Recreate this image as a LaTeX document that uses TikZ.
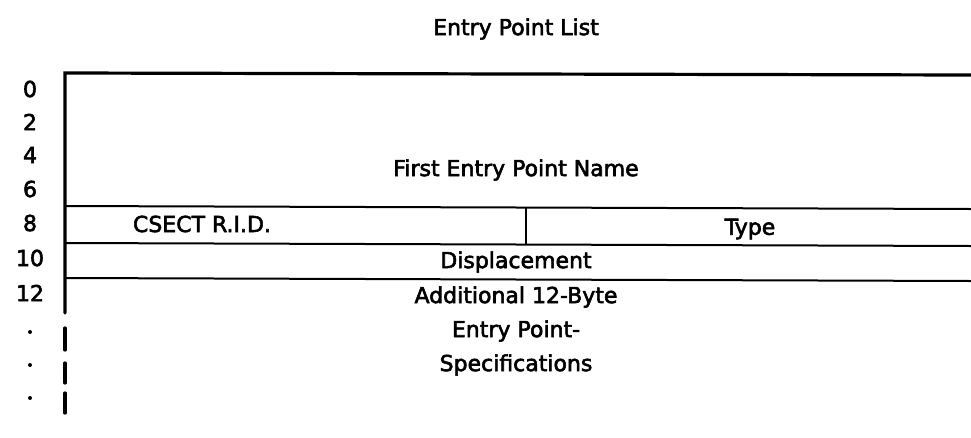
\documentclass[tikz,border=0pt]{standalone}
\usepackage{fontspec}
\setmainfont{DejaVu Sans}
\newfontfamily\listfont{DejaVu Sans}[FakeBold=2.6]
\usetikzlibrary{positioning}
\tikzset{
    field/.style={
        inner sep=0pt,
        font=\listfont\fontsize{22}{26}\selectfont
    },
    offset/.style={
        inner sep=0pt,
        font=\listfont\fontsize{22}{26}\selectfont
    },
    border/.style={
        line width=3.2pt,
        line cap=round
    },
    rule/.style={
        line width=2pt
    }
}

\begin{document}
\begin{tikzpicture}[x=1pt, y=-1pt]
  \useasboundingbox (0,0) rectangle (971,437);

  % Title
  \node[field] (title) at (516,29) {Entry Point List};

  % Corners of the list
  \coordinate (tl) at (65,73);
  \coordinate (tr) at (971,75);
  \coordinate (a) at (65,206);
  \coordinate (ar) at (971,209);
  \coordinate (b) at (65,243);
  \coordinate (br) at (971,246);
  \coordinate (c) at (65,278);
  \coordinate (cr) at (971,281);
  \coordinate (s) at (65,313);
  \coordinate (m1) at (526,207);
  \coordinate (m2) at (526,244);

  % Frame and fields
  \draw[border] (s) -- (tl) -- (tr);
  \draw[rule] (a) -- (ar);
  \draw[rule] (b) -- (br);
  \draw[rule] (c) -- (cr);
  \draw[rule] (m1) -- (m2);

  % Continuation dashes
  \draw[border] (65,328) -- (65,350);
  \draw[border] (65,363) -- (65,383);
  \draw[border] (65,393) -- (65,413);

  % Byte offsets
  \node[offset] (o0) at (30,89) {0};
  \node[offset] (o2) at (30,122) {2};
  \node[offset] (o4) at (30,155) {4};
  \node[offset] (o6) at (30,189) {6};
  \node[offset] (o8) at (30,223) {8};
  \node[offset] (o10) at (30,258) {10};
  \node[offset] (o12) at (30,293) {12};
  \fill (30,332) circle (2);
  \fill (30,365) circle (2);
  \fill (30,398) circle (2);

  % Field names
  \node[field] (first) at (516,170) {First Entry Point Name};
  \node[field] (csect) at (202,224) {CSECT R.I.D.};
  \node[field] (type) at (750,229) {Type};
  \node[field] (displ) at (516,262) {Displacement};
  \node[field, align=center] (addl) at (516,331) {Additional 12-Byte\\[8pt]Entry Point-\\[8pt]Specifications};
\end{tikzpicture}
\end{document}
